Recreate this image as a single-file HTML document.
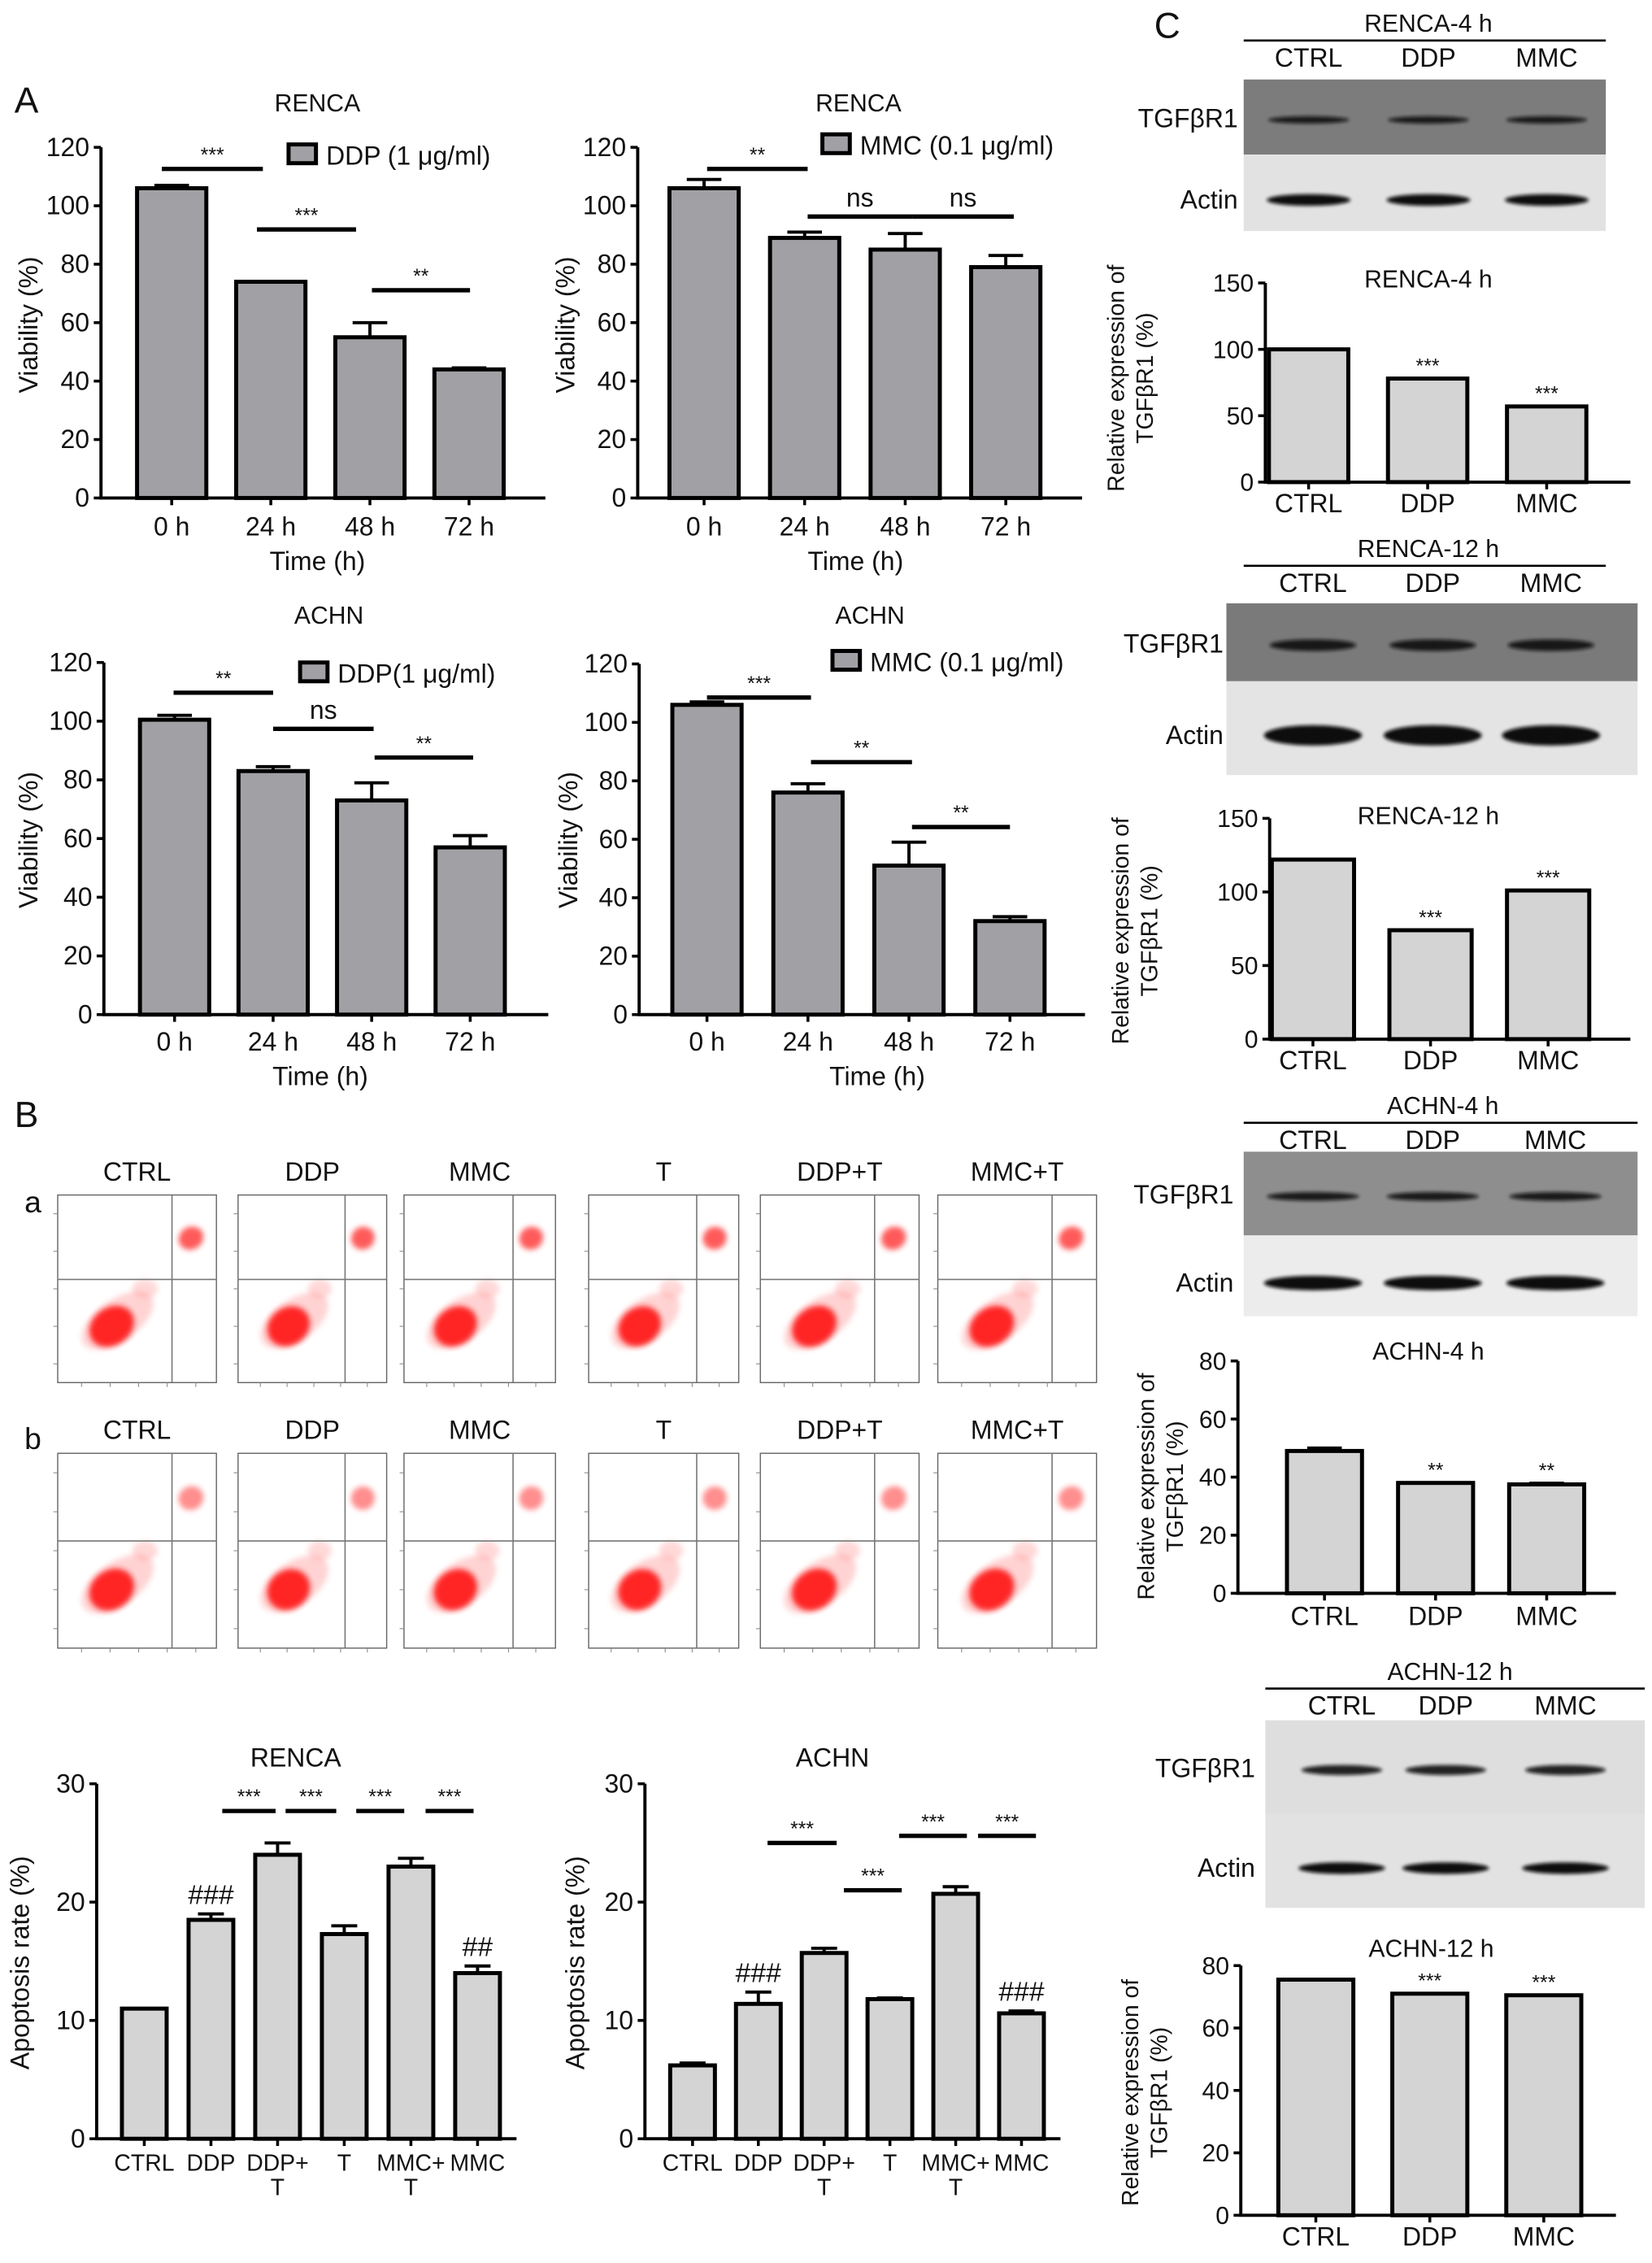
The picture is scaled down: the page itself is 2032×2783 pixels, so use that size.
<!DOCTYPE html>
<html><head><meta charset="utf-8">
<style>
html,body{margin:0;padding:0;background:#fff;}
svg{display:block;}
text{font-family:"Liberation Sans",Arial,sans-serif;fill:#111;}
</style></head>
<body>
<svg id="fig" xmlns="http://www.w3.org/2000/svg" width="2032" height="2783" viewBox="0 0 1145 1568">
<rect x="0" y="0" width="1145" height="1568" fill="#fff"/>
<defs>
<filter id="blur2" x="-50%" y="-50%" width="200%" height="200%"><feGaussianBlur stdDeviation="2"/></filter>
<filter id="blur1" x="-50%" y="-50%" width="200%" height="200%"><feGaussianBlur stdDeviation="1.2"/></filter>
</defs>
<g id="root"></g>
</svg>
<script>
// ===== Panel A data =====
const timeCats = ["0 h","24 h","48 h","72 h"];
const aTicks = [0,20,40,60,80,100,120];
const rencaDdpVals = [106,74,55,44];
const rencaDdpErr = [1,0,5,0.5];
const rencaMmcVals = [106,89,85,79];
const rencaMmcErr = [3,2,5.5,4];
const achnDdpVals = [100.5,83,73,57];
const achnDdpErr = [1.5,1.5,6,4];
const achnMmcVals = [106,76,51,32];
const achnMmcErr = [1,3,8,1.5];
const rencaDdpSig = [[-0.1,0.92,112.6,"***"],[0.86,1.86,91.9,"***"],[2.02,3.01,71.1,"**"]];
const rencaMmcSig = [[0.03,1.03,112.6,"**"],[1.03,2.07,96.3,"ns"],[2.07,3.08,96.3,"ns"]];
const achnDdpSig = [[-0.01,1.0,109.7,"**"],[1.0,2.02,97.4,"ns"],[2.03,3.03,87.6,"**"]];
const achnMmcSig = [[0,1.03,108.5,"***"],[1.03,2.03,86.4,"**"],[2.03,3.0,64.2,"**"]];
// ===== Panel B data =====
const apopCats = [["CTRL"],["DDP"],["DDP+","T"],["T"],["MMC+","T"],["MMC"]];
const apopTicks = [0,10,20,30];
const apopRencaVals = [11,18.5,24,17.3,23,14];
const apopRencaErr = [0,0.5,1,0.7,0.7,0.6];
const apopRencaHash = ["","###","","","","##"];
const apopRencaSig = [[1.17,1.97,27.7,"***"],[2.12,2.88,27.7,"***"],[3.18,3.9,27.7,"***"],[4.22,4.94,27.7,"***"]];
const apopAchnVals = [6.2,11.4,15.7,11.8,20.7,10.6];
const apopAchnErr = [0.2,1,0.4,0.1,0.6,0.2];
const apopAchnHash = ["","###","","","","###"];
const apopAchnSig = [[1.14,2.19,25.0,"***"],[2.3,3.18,21.0,"***"],[3.14,4.17,25.6,"***"],[4.34,5.22,25.6,"***"]];
const flowCats = ["CTRL","DDP","MMC","T","DDP+T","MMC+T"];
// ===== Panel C data =====
const blotCats = ["CTRL","DDP","MMC"];
const c150Ticks = [0,50,100,150];
const c80Ticks = [0,20,40,60,80];
const renca4Vals = [100,78,57];
const renca4Err = [0,0,0];
const renca4Stars = ["","***","***"];
const renca12Vals = [122,74,101];
const renca12Err = [0,0,0];
const renca12Stars = ["","***","***"];
const achn4Vals = [49,38,37.5];
const achn4Err = [1,0,0.4];
const achn4Stars = ["","**","**"];
const achn12Vals = [75.5,71,70.5];
const achn12Err = [0,0,0];
const achn12Stars = ["","***","***"];

const NS = "http://www.w3.org/2000/svg";
const root = document.getElementById('root');
function mk(tag, parent, attrs){
  const e = document.createElementNS(NS, tag);
  for (const k in attrs) e.setAttribute(k, attrs[k]);
  (parent||root).appendChild(e);
  return e;
}
function txt(parent, x, y, s, size, anchor, extra){
  const t = mk('text', parent, Object.assign({x:x, y:y, 'font-size':size, 'text-anchor':anchor||'middle'}, extra||{}));
  t.textContent = s;
  return t;
}

function barChart(cfg, cats, vals, errs, ticks, sig, marks){
  const g = mk('g', root, {});
  
  
  const max = ticks[ticks.length-1];
  const yS = v => cfg.y0 - (v/max)*(cfg.y0-cfg.yTop);
  const xS = i => cfg.first + i*cfg.step;
  const tt = txt(g, cfg.titleX, cfg.titleY, cfg.title, cfg.titleSize||17);
  
  
  vals.forEach((v,i)=>{
    const top = yS(v);
    const r = mk('rect', g, {x:xS(i)-cfg.bw/2, y:top, width:cfg.bw, height:cfg.y0-top, fill:cfg.fill, stroke:'#000', 'stroke-width':cfg.sw||2.8});
    
    
    const e = errs[i];
    if (e > 0){
      const et = yS(v+e);
      const el = mk('path', g, {d:`M${xS(i)} ${top} V${et} M${xS(i)-cfg.cap} ${et} H${xS(i)+cfg.cap}`, stroke:'#000', 'stroke-width':2.2, fill:'none'});
      
      
    }
    if (marks && marks[i]){
      const isHash = marks[i].indexOf('#')>=0;
      const mt = txt(g, xS(i), yS(v+e) - (isHash?7:4), marks[i], isHash?19:14);
      
      
    }
  });
  const ax = mk('path', g, {d:`M${cfg.ax} ${cfg.yTop} V${cfg.y0} H${cfg.axEnd}`, stroke:'#000', 'stroke-width':2.2, fill:'none'});
  
  
  ticks.forEach(t=>{
    const y = yS(t);
    mk('line', g, {x1:cfg.ax-5, x2:cfg.ax, y1:y, y2:y, stroke:'#000', 'stroke-width':2});
    const tl = txt(g, cfg.ax-8, y+6, String(t), cfg.tickSize||18, 'end');
    
    
  });
  cats.forEach((c,i)=>{
    mk('line', g, {x1:xS(i), x2:xS(i), y1:cfg.y0, y2:cfg.y0+5, stroke:'#000', 'stroke-width':2});
    const lines = Array.isArray(c)?c:[c];
    lines.forEach((s,j)=>{
      const xl = txt(g, xS(i), cfg.y0+cfg.labDy+j*17, s, cfg.catSize||18);
      
      
    });
  });
  if (cfg.xTitle){
    const xt = txt(g, cfg.xTitleX, cfg.y0+cfg.labDy+24, cfg.xTitle, 18);
    
    
  }
  cfg.yTitle.forEach((s,j)=>{
    const yt = txt(g, 0, 0, s, cfg.yTitleSize||18, 'middle', {transform:`translate(${cfg.yTitleX + j*20},${cfg.yTitleY}) rotate(-90)`});
    
    
  });
  (sig||[]).forEach(s=>{
    const y = yS(s[2]);
    const sl = mk('line', g, {x1:xS(s[0]), x2:xS(s[1]), y1:y, y2:y, stroke:'#000', 'stroke-width':3});
    
    
    const ns = s[3]==='ns';
    const st = txt(g, (xS(s[0])+xS(s[1]))/2, y - (ns?7:5), s[3], ns?18:14);
    
    
  });
  if (cfg.legend){
    const lr = mk('rect', g, {x:cfg.legX, y:cfg.legY-7, width:19, height:13, fill:cfg.fill, stroke:'#000', 'stroke-width':2.8});
    
    
    const lt = txt(g, cfg.legX+26, cfg.legY+7, cfg.legend, 18, 'start');
    
    
  }
  return g;
}

const AF = '#a1a1a5', BF = '#d4d4d4';
[["A",10,78],["B",10,781],["C",800,26],["a",17,840],["b",17,1004]].forEach(p=>{
  const t = txt(root, p[1], p[2], p[0], p[0]===p[0].toUpperCase()?25:21, 'start');
  
  
});

barChart({name:'renca-ddp-viability-chart', title:'RENCA', titleX:220, titleY:77, y0:345, yTop:102, first:119, step:68.7, bw:48, cap:12, ax:70, axEnd:378, fill:AF, labDy:26, xTitle:'Time (h)', xTitleX:220, yTitle:['Viability (%)'], yTitleX:26, yTitleY:225, legend:'DDP (1 \u03bcg/ml)', legX:200, legY:107},
  timeCats, rencaDdpVals, rencaDdpErr, aTicks, rencaDdpSig);
barChart({name:'renca-mmc-viability-chart', title:'RENCA', titleX:595, titleY:77, y0:345, yTop:102, first:488, step:69.7, bw:48, cap:12, ax:442, axEnd:750, fill:AF, labDy:26, xTitle:'Time (h)', xTitleX:593, yTitle:['Viability (%)'], yTitleX:398, yTitleY:225, legend:'MMC (0.1 \u03bcg/ml)', legX:570, legY:100},
  timeCats, rencaMmcVals, rencaMmcErr, aTicks, rencaMmcSig);
barChart({name:'achn-ddp-viability-chart', title:'ACHN', titleX:228, titleY:432, y0:703, yTop:459, first:121, step:68.3, bw:48, cap:12, ax:72, axEnd:380, fill:AF, labDy:25, xTitle:'Time (h)', xTitleX:222, yTitle:['Viability (%)'], yTitleX:26, yTitleY:582, legend:'DDP(1 \u03bcg/ml)', legX:208, legY:466},
  timeCats, achnDdpVals, achnDdpErr, aTicks, achnDdpSig);
barChart({name:'achn-mmc-viability-chart', title:'ACHN', titleX:603, titleY:432, y0:703, yTop:460, first:490, step:70, bw:48, cap:12, ax:443, axEnd:752, fill:AF, labDy:25, xTitle:'Time (h)', xTitleX:608, yTitle:['Viability (%)'], yTitleX:400, yTitleY:582, legend:'MMC (0.1 \u03bcg/ml)', legX:577, legY:458},
  timeCats, achnMmcVals, achnMmcErr, aTicks, achnMmcSig);

barChart({name:'renca-apoptosis-chart', title:'RENCA', titleX:205, titleY:1224, y0:1482, yTop:1236, first:100, step:46.2, bw:31, cap:9, ax:67, axEnd:358, fill:BF, labDy:22, catSize:16, yTitle:['Apoptosis rate (%)'], yTitleX:20, yTitleY:1360, titleSize:18},
  apopCats, apopRencaVals, apopRencaErr, apopTicks, apopRencaSig, apopRencaHash);
barChart({name:'achn-apoptosis-chart', title:'ACHN', titleX:577, titleY:1224, y0:1482, yTop:1236, first:480, step:45.6, bw:31, cap:9, ax:447, axEnd:735, fill:BF, labDy:22, catSize:16, yTitle:['Apoptosis rate (%)'], yTitleX:405, yTitleY:1360, titleSize:18},
  apopCats, apopAchnVals, apopAchnErr, apopTicks, apopAchnSig, apopAchnHash);

barChart({name:'renca-4h-expression-chart', title:'RENCA-4 h', titleX:990, titleY:199, y0:334, yTop:196, first:907, step:82.5, bw:55, cap:12, ax:877, axEnd:1130, fill:BF, labDy:21, tickSize:17, catSize:18, yTitle:['Relative expression of','TGF\u03b2R1 (%)'], yTitleX:779, yTitleY:262, yTitleSize:16},
  blotCats, renca4Vals, renca4Err, c150Ticks, [], renca4Stars);
barChart({name:'renca-12h-expression-chart', title:'RENCA-12 h', titleX:990, titleY:571, y0:720, yTop:567, first:910, step:81.5, bw:57, cap:12, ax:880, axEnd:1130, fill:BF, labDy:21, tickSize:17, catSize:18, yTitle:['Relative expression of','TGF\u03b2R1 (%)'], yTitleX:782, yTitleY:645, yTitleSize:16},
  blotCats, renca12Vals, renca12Err, c150Ticks, [], renca12Stars);
barChart({name:'achn-4h-expression-chart', title:'ACHN-4 h', titleX:990, titleY:942, y0:1104, yTop:943, first:918, step:77, bw:52, cap:12, ax:858, axEnd:1120, fill:BF, labDy:22, tickSize:17, catSize:18, yTitle:['Relative expression of','TGF\u03b2R1 (%)'], yTitleX:800, yTitleY:1030, yTitleSize:16},
  blotCats, achn4Vals, achn4Err, c80Ticks, [], achn4Stars);
barChart({name:'achn-12h-expression-chart', title:'ACHN-12 h', titleX:992, titleY:1356, y0:1535, yTop:1362, first:912, step:79, bw:52, cap:12, ax:860, axEnd:1120, fill:BF, labDy:21, tickSize:17, catSize:18, yTitle:['Relative expression of','TGF\u03b2R1 (%)'], yTitleX:789, yTitleY:1450, yTitleSize:16},
  blotCats, achn12Vals, achn12Err, c80Ticks, [], achn12Stars);

function blot(name, title, tx, ty, lineX1, lineX2, laneXs, bx1, bx2, t1, t2, t3, topFill, botFill, bandTop, bandTopW, bandBot, bandBotW, labX){
  const g = mk('g', root, {});
  
  
  const h = txt(g, tx, ty, title, 17);
  
  
  mk('line', g, {x1:lineX1, x2:lineX2, y1:ty+6, y2:ty+6, stroke:'#000', 'stroke-width':1.5});
  blotCats.forEach((c,i)=>{
    const l = txt(g, laneXs[i], ty+24, c, 18);
    
    
  });
  const r1 = mk('rect', g, {x:bx1, y:t1, width:bx2-bx1, height:t2-t1, fill:topFill});
  
  
  const r2 = mk('rect', g, {x:bx1, y:t2, width:bx2-bx1, height:t3-t2, fill:botFill});
  
  
  laneXs.forEach((x,i)=>{
    mk('ellipse', g, {cx:x, cy:(t1+t2)/2 + 2, rx:bandTopW, ry:bandTop, fill:'#111', filter:'url(#blur1)', opacity:0.9});
    mk('ellipse', g, {cx:x, cy:(t2+t3)/2 + 5, rx:bandBotW, ry:bandBot, fill:'#0a0a0a', filter:'url(#blur1)'});
  });
  const a = txt(g, labX, (t1+t2)/2+7, 'TGF\u03b2R1', 18, 'end');
  
  
  const b = txt(g, labX, (t2+t3)/2+11, 'Actin', 18, 'end');
  
  
}
blot('renca-4h-blot','RENCA-4 h',990,22,862,1113,[907,990,1072],862,1113,55,107,160,'#7c7c7c','#e2e2e2',2.5,28,4,29,858);
blot('renca-12h-blot','RENCA-12 h',990,386,862,1113,[910,993,1075],850,1135,418,472,537,'#7a7a7a','#e4e4e4',4,30,7,34,848);
blot('achn-4h-blot','ACHN-4 h',1000,772,862,1135,[910,993,1078],862,1135,798,856,912,'#8e8e8e','#ececec',3,32,5,34,855);
blot('achn-12h-blot','ACHN-12 h',1005,1164,877,1140,[930,1002,1085],877,1140,1192,1257,1322,'#dedede','#e2e2e2',3.5,28,4,30,870);

const flowCols = [[40,150],[165,268],[280,385],[408,512],[527,637],[650,760]];
const flowRows = [[828,958,818],[1007,1142,997]];
flowRows.forEach((row,ri)=>{
  flowCols.forEach((col,ci)=>{
    const g = mk('g', root, {});
    
    
    const [x1,x2] = col, [y1,y2,ly] = row;
    const w = x2-x1, h = y2-y1;
    const lab = txt(g, (x1+x2)/2, ly, flowCats[ci], 18);
    
    
    mk('rect', g, {x:x1, y:y1, width:w, height:h, fill:'#fff', stroke:'#666', 'stroke-width':0.8});
    const gx = x1 + w*0.72, gy = y1 + h*0.45;
    const cx = x1+w*0.34, cy = y1+h*0.7;
    mk('ellipse', g, {cx:cx+4, cy:cy-4, rx:w*0.26, ry:h*0.11, fill:'#ff7070', filter:'url(#blur2)', opacity:0.3, transform:`rotate(-35 ${cx+4} ${cy-4})`});
    mk('ellipse', g, {cx:cx, cy:cy, rx:w*0.15, ry:h*0.1, fill:'#ff1a1a', filter:'url(#blur2)', opacity:0.95, transform:`rotate(-35 ${cx} ${cy})`});
    mk('ellipse', g, {cx:x1+w*0.55, cy:y1+h*0.5, rx:w*0.08, ry:h*0.05, fill:'#ff8080', filter:'url(#blur2)', opacity:0.3});
    mk('ellipse', g, {cx:x1+w*0.84, cy:y1+h*0.23, rx:w*0.08, ry:h*0.06, fill:'#ff3030', filter:'url(#blur2)', opacity:ri?0.55:0.8, transform:`rotate(-30 ${x1+w*0.84} ${y1+h*0.23})`});
    mk('line', g, {x1:gx, x2:gx, y1:y1, y2:y2, stroke:'#777', 'stroke-width':0.9});
    mk('line', g, {x1:x1, x2:x2, y1:gy, y2:gy, stroke:'#777', 'stroke-width':0.9});
    for (let k=0;k<5;k++){
      mk('line', g, {x1:x1+w*(0.15+k*0.18), x2:x1+w*(0.15+k*0.18), y1:y2, y2:y2+3, stroke:'#888', 'stroke-width':0.6});
      mk('line', g, {x1:x1-3, x2:x1, y1:y1+h*(0.1+k*0.2), y2:y1+h*(0.1+k*0.2), stroke:'#888', 'stroke-width':0.6});
    }
  });
});
</script>
</body></html>
